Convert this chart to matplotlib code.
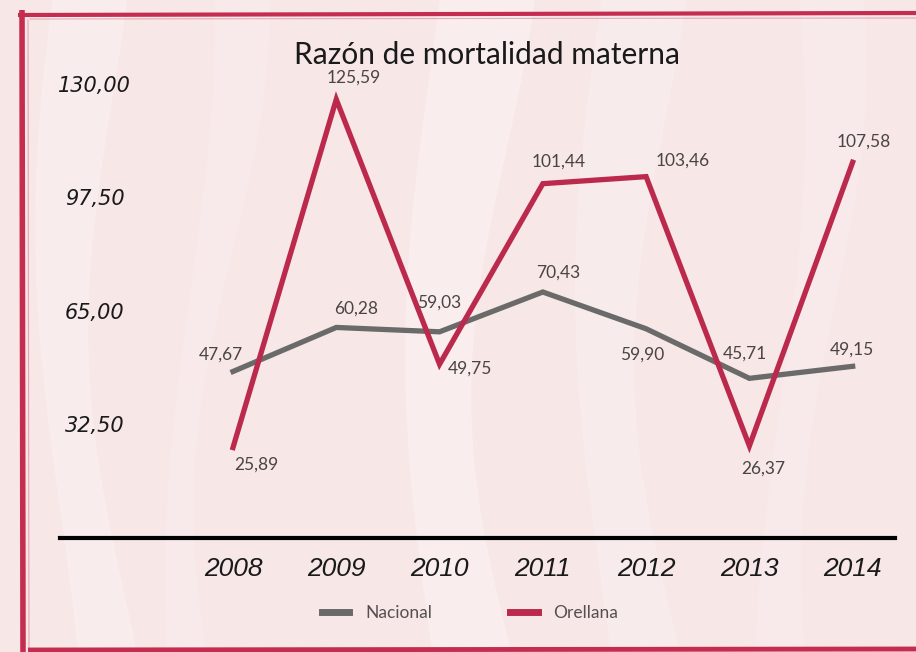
import matplotlib
matplotlib.use("Agg")
import matplotlib.pyplot as plt
import numpy as np

# datos
years = ['2008', '2009', '2010', '2011', '2012', '2013', '2014']
nacional = [47.67, 60.28, 59.03, 70.43, 59.90, 45.71, 49.15]
orellana = [25.89, 125.59, 49.75, 101.44, 103.46, 26.37, 107.58]
yticks = [32.5, 65.0, 97.5, 130.0]
ytick_labels = ['32,50', '65,00', '97,50', '130,00']

# offsets (pixels) de las etiquetas
off_nac = [(-12, 17), (20, 19), (0, 29), (15, 19), (-4, -26), (-4, 25), (-1, 17)]
off_ore = [(23, -17), (17, 22), (30, -4), (16, 22), (37, 16), (14, -23), (11, 21)]

c_nac = '#6a6a6a'
c_ore = '#bb2a4c'
c_frame = '#c42d50'

fig = plt.figure(figsize=(9.16, 6.52), dpi=100)
fig.patch.set_facecolor('#f7e7e7')

# fondo con vetas claras
bg = fig.add_axes([0, 0, 1, 1], zorder=-10)
bg.set_xlim(0, 916)
bg.set_ylim(652, 0)
bg.axis('off')
yy = np.linspace(0, 652, 50)
bands = [(60, 60, 0.22), (190, 40, 0.15), (430, 80, 0.25), (600, 70, 0.2), (780, 50, 0.15)]
for x0, w, a in bands:
    xl = x0 + 25 * np.sin(yy / 180.0 + x0)
    bg.fill_betweenx(yy, xl, xl + w + 15 * np.cos(yy / 140.0), color='white', alpha=a, lw=0)
# marco rojo tipo pincel
bg.plot([18, 916], [15, 13], color=c_frame, lw=3.0, solid_capstyle='butt')
bg.plot([30, 916], [19, 18], color=c_frame, lw=0.8, alpha=0.35)
bg.plot([22, 23], [10, 652], color=c_frame, lw=4.0, solid_capstyle='butt')
bg.plot([28, 29], [20, 652], color=c_frame, lw=0.8, alpha=0.35)
bg.plot([28, 916], [650, 649], color=c_frame, lw=3.5, solid_capstyle='butt')

ax = fig.add_axes([60 / 916, 114 / 652, 835 / 916, 489 / 652])
ax.patch.set_alpha(0)
x = np.arange(len(years))

ax.plot(x, nacional, color=c_nac, lw=3.8, label='Nacional', zorder=3, solid_joinstyle='miter')
ax.plot(x, orellana, color=c_ore, lw=3.8, label='Orellana', zorder=4, solid_joinstyle='miter')

lab_font = dict(fontsize=12.5, color='#4a4444', family='Lato')
for i in range(len(years)):
    ax.annotate(f"{nacional[i]:.2f}".replace('.', ','), (x[i], nacional[i]),
                xytext=off_nac[i], textcoords='offset pixels', ha='center', va='center',
                zorder=5, **lab_font)
    ax.annotate(f"{orellana[i]:.2f}".replace('.', ','), (x[i], orellana[i]),
                xytext=off_ore[i], textcoords='offset pixels', ha='center', va='center',
                zorder=5, **lab_font)

ax.set_xlim(-1.675, 6.41)
ax.set_ylim(0, 140)

for s in ['top', 'right', 'left']:
    ax.spines[s].set_visible(False)
ax.spines['bottom'].set_linewidth(3)
ax.spines['bottom'].set_color('black')

ax.set_xticks(x, years)
ax.tick_params(axis='x', length=0, pad=14)
for lab in ax.get_xticklabels():
    lab.set_fontsize(19)
    lab.set_fontstyle('italic')
    lab.set_family(['Liberation Sans Narrow', 'Liberation Sans'])
    lab.set_color('#1a1a1a')

ax.set_yticks(yticks, ytick_labels)
ax.tick_params(axis='y', length=0, pad=-25)
for lab in ax.get_yticklabels():
    lab.set_fontsize(15)
    lab.set_fontstyle('italic')
    lab.set_family('DejaVu Sans')
    lab.set_horizontalalignment('center')
    lab.set_color('#1a1a1a')

fig.text(487 / 916, 1 - 55 / 652, 'Razón de mortalidad materna', ha='center', va='center',
         fontsize=21.5, family='Lato', color='#1a1a1a')

leg = ax.legend(loc='center', bbox_to_anchor=(470 / 916, 1 - 613 / 652),
                bbox_transform=fig.transFigure, ncol=2, frameon=False,
                handlelength=1.6, columnspacing=4.5, handletextpad=0.9,
                prop={'family': 'Lato', 'size': 12.5})
for t in leg.get_texts():
    t.set_color('#555050')
for h in leg.get_lines():
    h.set_linewidth(5)

fig.savefig('out.png', dpi=100, facecolor=fig.get_facecolor())
